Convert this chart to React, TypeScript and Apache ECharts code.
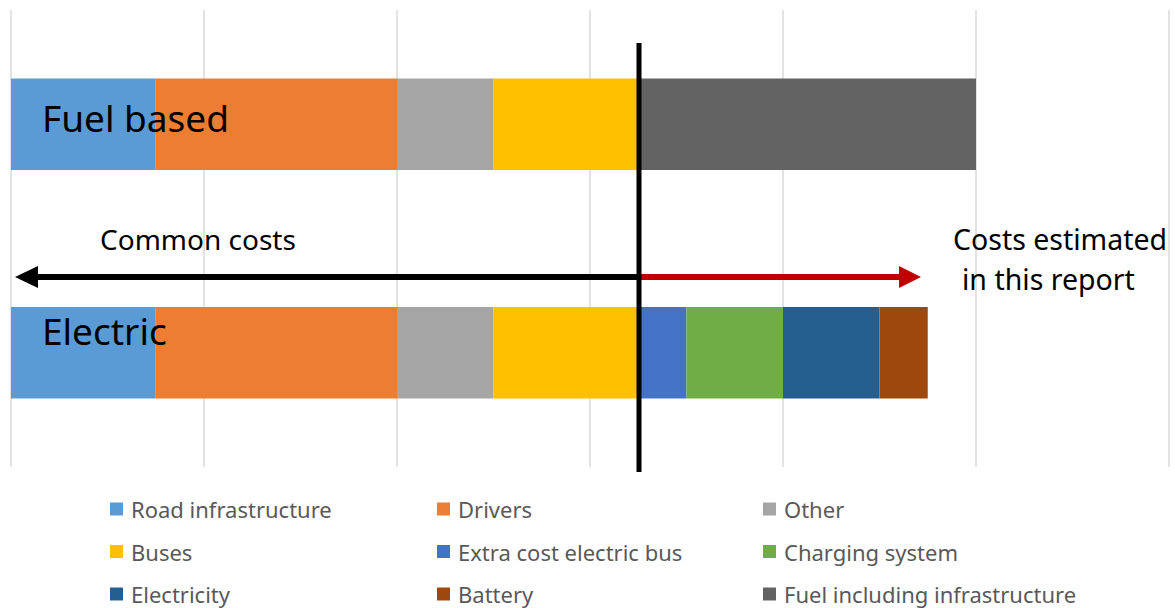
import React, { useEffect, useRef } from "react";
import * as echarts from "echarts";

const categories = ["Fuel based", "Electric"];
const seriesNames = [
  "Road infrastructure",
  "Drivers",
  "Other",
  "Buses",
  "Extra cost electric bus",
  "Charging system",
  "Electricity",
  "Battery",
  "Fuel including infrastructure",
];
const colors = [
  "#5B9BD5",
  "#ED7D31",
  "#A5A5A5",
  "#FFC000",
  "#4472C4",
  "#70AD47",
  "#255E91",
  "#9E480E",
  "#636363",
];
// values per series: [Fuel based, Electric]
const roadInfrastructure = [0.75, 0.75];
const drivers = [1.25, 1.25];
const other = [0.5, 0.5];
const buses = [0.75, 0.75];
const extraCostElectricBus = [null, 0.25];
const chargingSystem = [null, 0.5];
const electricity = [null, 0.5];
const battery = [null, 0.25];
const fuelIncludingInfrastructure = [1.75, null];

const seriesValues = [
  roadInfrastructure,
  drivers,
  other,
  buses,
  extraCostElectricBus,
  chargingSystem,
  electricity,
  battery,
  fuelIncludingInfrastructure,
];

const legendColumns = [
  ["Road infrastructure", "Buses", "Electricity"],
  ["Drivers", "Extra cost electric bus", "Battery"],
  ["Other", "Charging system", "Fuel including infrastructure"],
];
const legendLefts = [110, 437, 763];

const FONT = "Noto Sans";

export default function App() {
  const ref = useRef<HTMLDivElement>(null);
  useEffect(() => {
    if (!ref.current) return;
    const chart = echarts.init(ref.current, undefined, { renderer: "svg" });
    const option: any = {
      animation: false,
      textStyle: { fontFamily: FONT },
      grid: { left: 11, right: 6, top: 10, bottom: 141, containLabel: false },
      xAxis: {
        type: "value",
        min: 0,
        max: 6,
        interval: 1,
        axisLabel: { show: false },
        axisLine: { show: false },
        axisTick: { show: false },
        splitLine: { show: true, lineStyle: { color: "#d9d9d9", width: 1.5 } },
      },
      yAxis: {
        type: "category",
        data: categories,
        inverse: true,
        axisLabel: { show: false },
        axisLine: { show: false },
        axisTick: { show: false },
        splitLine: { show: false },
      },
      legend: legendColumns.map((col, i) => ({
        data: col,
        orient: "vertical",
        left: legendLefts[i],
        top: 498,
        padding: 0,
        itemWidth: 13,
        itemHeight: 13,
        itemGap: 20.5,
        icon: "rect",
        selectedMode: false,
        textStyle: {
          fontFamily: FONT,
          fontSize: 22,
          color: "#595959",
          lineHeight: 22,
          padding: [0, 0, 0, 3],
        },
      })),
      series: seriesNames.map((name, i) => ({
        name,
        type: "bar",
        stack: "total",
        barCategoryGap: "60%",
        data: seriesValues[i],
        itemStyle: { color: colors[i] },
        emphasis: { disabled: true },
      })),
      graphic: [
        {
          type: "text",
          left: 42,
          top: 99,
          z: 100,
          style: { text: "Fuel based", fontSize: 37, fontFamily: FONT, fill: "#000" },
        },
        {
          type: "text",
          left: 42,
          top: 312,
          z: 100,
          style: { text: "Electric", fontSize: 37, fontFamily: FONT, fill: "#000" },
        },
        {
          type: "text",
          left: 100,
          top: 225,
          z: 100,
          style: { text: "Common costs", fontSize: 28, fontFamily: FONT, fill: "#000" },
        },
        {
          type: "text",
          left: 953,
          top: 224,
          z: 100,
          style: { text: "Costs estimated", fontSize: 28.5, fontFamily: FONT, fill: "#000" },
        },
        {
          type: "text",
          left: 962,
          top: 264,
          z: 100,
          style: { text: "in this report", fontSize: 28.5, fontFamily: FONT, fill: "#000" },
        },
        {
          type: "line",
          z: 101,
          shape: { x1: 36, y1: 277, x2: 638, y2: 277 },
          style: { stroke: "#000", lineWidth: 6 },
        },
        {
          type: "polygon",
          z: 101,
          shape: { points: [[15, 277], [38, 266], [38, 288]] },
          style: { fill: "#000" },
        },
        {
          type: "line",
          z: 101,
          shape: { x1: 640, y1: 277, x2: 901, y2: 277 },
          style: { stroke: "#C00000", lineWidth: 6 },
        },
        {
          type: "polygon",
          z: 101,
          shape: { points: [[921, 277], [899, 266], [899, 288]] },
          style: { fill: "#C00000" },
        },
        {
          type: "line",
          z: 102,
          shape: { x1: 639, y1: 43, x2: 639, y2: 472 },
          style: { stroke: "#000", lineWidth: 5 },
        },
      ],
    };
    chart.setOption(option);
    return () => chart.dispose();
  }, []);
  return <div ref={ref} style={{ width: 1175, height: 608, position: "absolute", left: 0, top: 0 }} />;
}
